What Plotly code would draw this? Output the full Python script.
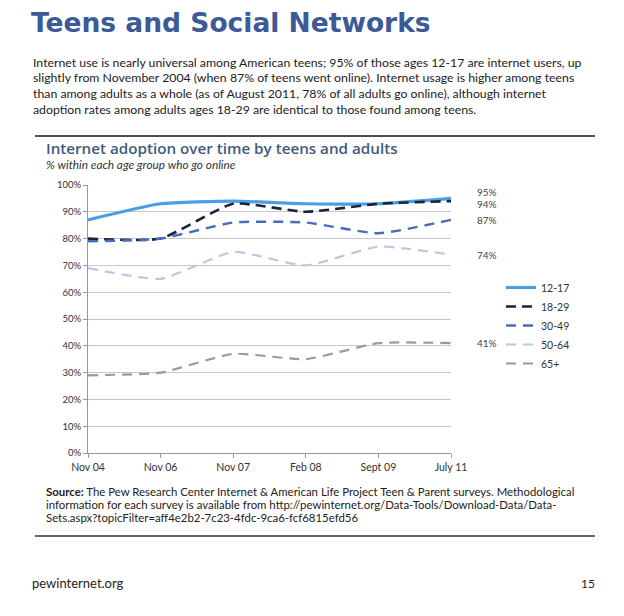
import plotly.graph_objects as go

categories = ["Nov 04", "Nov 06", "Nov 07", "Feb 08", "Sept 09", "July 11"]
series_names = ["12-17", "18-29", "30-49", "50-64", "65+"]
v_12_17 = [87, 93, 94, 93, 93, 95]
v_18_29 = [80, 80, 93, 90, 93, 94]
v_30_49 = [79, 80, 86, 86, 82, 87]
v_50_64 = [69, 65, 75, 70, 77, 74]
v_65 = [29, 30, 37, 35, 41, 41]
y_ticks = [0, 10, 20, 30, 40, 50, 60, 70, 80, 90, 100]

OFF = 8  # page body margin
W, H = 608, 600
L, R, T, B = 88, 451, 185, 453  # plot area in window pixels

def px(x):
    return (x - L) / (R - L)

def py(y):
    return (B - y) / (B - T)

styles = [
    dict(color="#4a9fe3", width=3.2, dash="solid"),
    dict(color="#17263d", width=2.6, dash="10px,6px"),
    dict(color="#4a6bbf", width=2.4, dash="10px,7px"),
    dict(color="#bcc6e2", width=2.2, dash="10px,7px"),
    dict(color="#9a9a9a", width=2.2, dash="10px,7px"),
]
values = [v_12_17, v_18_29, v_30_49, v_50_64, v_65]
xs = list(range(len(categories)))

fig = go.Figure()
for name, vals, st in zip(series_names, values, styles):
    fig.add_trace(go.Scatter(x=xs, y=vals, mode="lines", name=name,
                             line=dict(color=st["color"], width=st["width"], dash=st["dash"],
                                       shape="spline", smoothing=0.5)))

font_body = "Lato, 'Open Sans', sans-serif"

annotations = []

def text_at(x, y, text, size, color="#222222", family=font_body, anchor="left", weight=None):
    f = dict(family=family, size=size, color=color)
    if weight:
        f["weight"] = weight
    annotations.append(dict(x=px(x), y=py(y), xref="paper", yref="paper", text=text,
                            showarrow=False, xanchor=anchor, yanchor="middle", font=f))

# end labels
label_shifts = [6, -3, 0, 0, 0]
for vals, sh in zip(values, label_shifts):
    annotations.append(dict(x=xs[-1], y=vals[-1], xref="x", yref="y", text=f"{vals[-1]}%",
                            showarrow=False, xanchor="left", xshift=24, yshift=sh,
                            font=dict(family=font_body, size=10, color="#444444")))

text_at(29, 23, "<b>Teens and Social Networks</b>", 26.5, "#3c5a97", "'DejaVu Sans', sans-serif")

para_lines = [
    "Internet use is nearly universal among American teens; 95% of those ages 12-17 are internet users, up",
    "slightly from November 2004 (when 87% of teens went online). Internet usage is higher among teens",
    "than among adults as a whole (as of August 2011, 78% of all adults go online), although internet",
    "adoption rates among adults ages 18-29 are identical to those found among teens.",
]
for i, line in enumerate(para_lines):
    text_at(31, 62 + i * 15.7, line, 12.3)

text_at(44, 148, "Internet adoption over time by teens and adults", 15.2, "#3e5a7e",
        "'Open Sans', sans-serif", weight=600)
text_at(44, 164, "<i>% within each age group who go online</i>", 11.8, "#333333")

src_lines = [
    "<b>Source:</b> The Pew Research Center Internet & American Life Project Teen & Parent surveys. Methodological",
    "information for each survey is available from http://pewinternet.org/Data-Tools/Download-Data/Data-",
    "Sets.aspx?topicFilter=aff4e2b2-7c23-4fdc-9ca6-fcf6815efd56",
]
for i, line in enumerate(src_lines):
    text_at(44, 491 + i * 13, line, 11.4)

text_at(30, 583, "pewinternet.org", 13)
text_at(597, 583, "15", 12, anchor="right")

shapes = [
    dict(type="line", xref="paper", yref="paper", x0=px(35), x1=px(595), y0=py(136), y1=py(136),
         line=dict(color="#111111", width=1.5)),
    dict(type="line", xref="paper", yref="paper", x0=px(35), x1=px(595), y0=py(536), y1=py(536),
         line=dict(color="#333333", width=1.5)),
]

fig.update_layout(
    width=W, height=H,
    margin=dict(l=L - OFF, r=(OFF + W) - R, t=T - OFF, b=(OFF + H) - B, pad=0),
    paper_bgcolor="white", plot_bgcolor="white",
    showlegend=True,
    legend=dict(x=px(501), y=py(273), xanchor="left", yanchor="top",
                font=dict(family=font_body, size=10.5, color="#333333"),
                tracegroupgap=0, itemwidth=30, bgcolor="rgba(0,0,0,0)"),
    annotations=annotations,
    shapes=shapes,
    xaxis=dict(tickmode="array", tickvals=xs, ticktext=categories, range=[0, len(categories) - 1],
               showgrid=False, zeroline=False, showline=True, linecolor="#999999", linewidth=1,
               ticks="outside", ticklen=4, tickcolor="#999999",
               tickfont=dict(family=font_body, size=10.5, color="#333333")),
    yaxis=dict(tickmode="array", tickvals=y_ticks, ticktext=[f"{t}%" for t in y_ticks], range=[0, 100],
               showgrid=True, gridcolor="#c8c8c8", gridwidth=1, zeroline=False,
               showline=True, linecolor="#999999", linewidth=1, ticks="outside", ticklen=4, tickcolor="#999999",
               tickfont=dict(family=font_body, size=9.5, color="#333333")),
)

fig.write_html("out.html")
